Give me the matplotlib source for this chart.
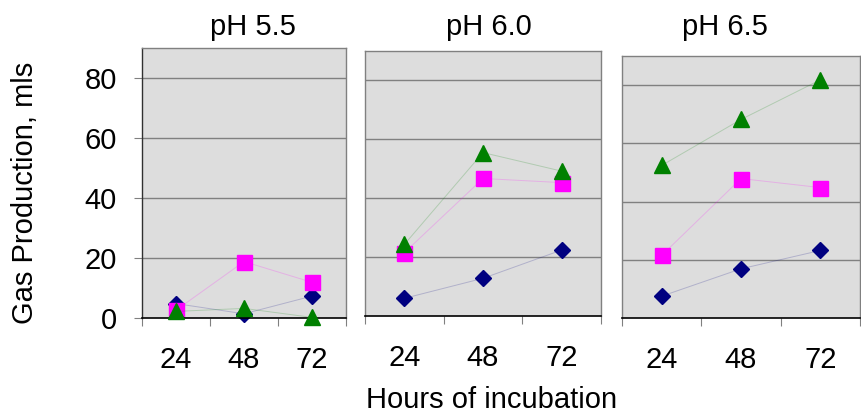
import matplotlib
matplotlib.use("Agg")
import matplotlib.pyplot as plt

plt.rcParams['font.family'] = ['Liberation Sans', 'DejaVu Sans']

hours = ["24", "48", "72"]
panel_titles = ["pH 5.5", "pH 6.0", "pH 6.5"]
diamond_vals = [[4.8, 1.4, 7.3], [6.0, 12.8, 22.4], [7.5, 16.9, 23.2]]
square_vals = [[2.6, 18.8, 11.9], [21.5, 46.7, 45.3], [21.5, 47.9, 44.8]]
triangle_vals = [[2.2, 3.2, 0.2], [24.3, 55.5, 49.2], [52.4, 68.2, 81.8]]
yticks = [0, 20, 40, 60, 80]

W, H = 861, 413
FS = 21
fig = plt.figure(figsize=(W / 100, H / 100), dpi=100)

# pixel boxes (left, right, top, bottom)
boxes = [(142, 346, 48, 318), (365, 601, 51, 316), (622, 860, 56, 318)]
title_x = [253, 489, 725]

BG = "#DDDDDD"
GRID = "#808080"
series_style = [
    ("D", "#000080", 8.0, 1),
    ("s", "#FF00FF", 10.8, 2),
    ("^", "#008000", 11.0, 3),
]

x = [1, 2, 3]
for i, (l, r, t, b) in enumerate(boxes):
    ax = fig.add_axes([l / W, (H - b) / H, (r - l) / W, (b - t) / H])
    ax.set_facecolor(BG)
    ax.set_xlim(0.5, 3.5)
    ax.set_ylim(0, 90)
    for vals, (m, c, ms, z) in zip([diamond_vals, square_vals, triangle_vals], series_style):
        ax.plot(x, vals[i], color=c, alpha=0.2, lw=0.7, zorder=z, clip_on=False)
        ax.plot(x, vals[i], linestyle="none", marker=m, markersize=ms,
                color=c, markeredgecolor=c, zorder=z + 0.5, clip_on=False)
    for gy in yticks[1:]:
        ax.axhline(gy, color=GRID, lw=1.0, zorder=0.5)
    ax.set_xticks(x)
    ax.set_xticklabels(hours, fontsize=FS)
    ax.set_xticks([0.5, 1.5, 2.5, 3.5], minor=True)
    ax.tick_params(axis="x", which="major", length=0, pad=20)
    ax.tick_params(axis="x", which="minor", length=6, width=0.8, color=GRID, direction="out")
    if i == 0:
        ax.set_yticks(yticks)
        ax.set_yticklabels([str(v) for v in yticks], fontsize=FS)
        ax.tick_params(axis="y", length=6, width=0.8, color=GRID, pad=12, direction="out")
        ax.spines["left"].set_color("#303030")
    else:
        ax.set_yticks([])
        ax.spines["left"].set_color(GRID)
    ax.spines["top"].set_color(GRID)
    ax.spines["right"].set_color(GRID)
    ax.spines["bottom"].set_color("black")
    ax.spines["bottom"].set_linewidth(1.2)
    for s in ["left", "top", "right"]:
        ax.spines[s].set_linewidth(1.0)
    fig.text(title_x[i] / W, (H - 35) / H, panel_titles[i], fontsize=FS,
             ha="center", va="baseline")

fig.text(25 / W, (H - 193) / H, "Gas Production, mls", fontsize=FS,
         rotation=90, ha="center", va="center")
fig.text(492 / W, (H - 408) / H, "Hours of incubation", fontsize=FS,
         ha="center", va="baseline")

fig.savefig("out.png", dpi=100)
